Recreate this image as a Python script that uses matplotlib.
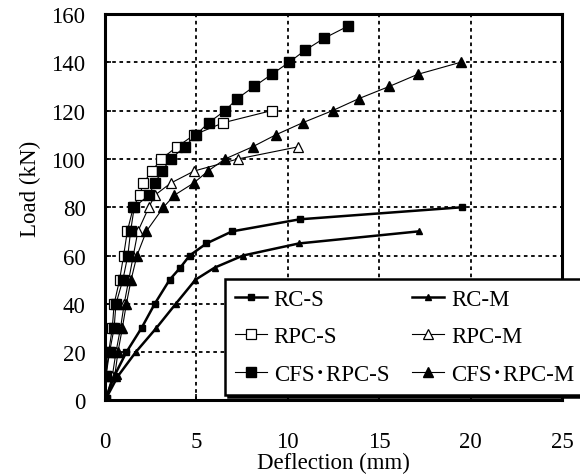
import matplotlib
matplotlib.use('Agg')
import matplotlib.pyplot as plt

plt.rcParams['font.family'] = ['Liberation Serif', 'Noto Sans CJK JP']
plt.rcParams['font.size'] = 16.5

# load-deflection data
rc_s_d = [0, 0.5, 1.17, 2.0, 2.72, 3.54, 4.12, 4.63, 5.55, 6.95, 10.65, 19.55]
rc_s_p = [0, 10, 20, 30, 40, 50, 55, 60, 65, 70, 75, 80]

rc_m_d = [0, 0.7, 1.68, 2.81, 3.87, 4.95, 6.0, 7.55, 10.6, 17.15]
rc_m_p = [0, 10, 20, 30, 40, 50, 55, 60, 65, 70]

rpc_s_d = [0, 0.05, 0.2, 0.4, 0.5, 0.8, 1.02, 1.22, 1.55, 1.9, 2.1, 2.57, 3.08, 3.94, 4.89, 6.48, 9.12]
rpc_s_p = [0, 10, 20, 30, 40, 50, 60, 70, 80, 85, 90, 95, 100, 105, 110, 115, 120]

rpc_m_d = [0, 0.4, 0.6, 0.85, 1.05, 1.3, 1.55, 1.8, 2.4, 2.73, 3.6, 4.88, 7.28, 10.56]
rpc_m_p = [0, 10, 20, 30, 40, 50, 60, 70, 80, 85, 90, 95, 100, 105]

cfs_s_d = [0, 0.05, 0.25, 0.5, 0.6, 0.98, 1.25, 1.4, 1.6, 2.4, 2.73, 3.12, 3.6, 4.36, 4.98,
           5.67, 6.57, 7.24, 8.16, 9.12, 10.07, 10.95, 12.0, 13.3]
cfs_s_p = [0, 10, 20, 30, 40, 50, 60, 70, 80, 85, 90, 95, 100, 105, 110,
           115, 120, 125, 130, 135, 140, 145, 150, 155]

cfs_m_d = [0, 0.53, 0.71, 0.95, 1.17, 1.43, 1.75, 2.26, 3.2, 3.8, 4.85, 5.64, 6.57, 8.07,
           9.35, 10.82, 12.45, 13.9, 15.55, 17.1, 19.45]
cfs_m_p = [0, 10, 20, 30, 40, 50, 60, 70, 80, 85, 90, 95, 100, 105,
           110, 115, 120, 125, 130, 135, 140]

fig = plt.figure(figsize=(5.8, 4.77), dpi=100)
ax = fig.add_axes([0.181, 0.1583, 0.788, 0.8103])

h1, = ax.plot(rc_s_d, rc_s_p, 'k-', marker='s', ms=4, lw=1.8, label='RC-S')
h2, = ax.plot(rc_m_d, rc_m_p, 'k-', marker='^', ms=4.5, lw=1.8, label='RC-M')
h3, = ax.plot(rpc_s_d, rpc_s_p, 'k-', marker='s', ms=6.5, mfc='white', mew=0.9, lw=0.8, label='RPC-S')
h4, = ax.plot(rpc_m_d, rpc_m_p, 'k-', marker='^', ms=7.5, mfc='white', mew=0.9, lw=0.8, label='RPC-M')
h5, = ax.plot(cfs_s_d, cfs_s_p, 'k-', marker='s', ms=6.5, lw=0.8, label='CFS\uff65RPC-S')
h6, = ax.plot(cfs_m_d, cfs_m_p, 'k-', marker='^', ms=7.5, lw=0.8, label='CFS\uff65RPC-M')

ax.set_xlim(0, 25)
ax.set_ylim(0, 160)
ax.set_xticks(range(0, 26, 5))
ax.set_yticks(range(0, 161, 20))
ax.grid(True, color='k', ls=(0, (2, 2)), lw=1.3)
ax.tick_params(direction='in', length=4, width=1.2)
ax.tick_params(axis='x', pad=22)
ax.tick_params(axis='y', pad=14)
for s in ax.spines.values():
    s.set_linewidth(2.2)

ax.set_xlabel('Deflection (mm)', labelpad=0)
ax.set_ylabel('Load (kN)')
ax.yaxis.set_label_coords(-0.14, 0.55)

# row-wise legend order (matplotlib fills columns first)
handles = [h1, h3, h5, h2, h4, h6]
leg = ax.legend(handles=handles, ncol=2, loc='upper left', bbox_to_anchor=(0.263, 0.314),
                borderaxespad=0, fancybox=False, shadow={'color': 'k', 'alpha': 1},
                framealpha=1, edgecolor='k', handlelength=1.4, handletextpad=0.3,
                columnspacing=1.0, labelspacing=0.72, borderpad=0.42)
leg.get_frame().set_linewidth(1.8)
leg.set_clip_on(False)

fig.savefig('out.png', dpi=100)
